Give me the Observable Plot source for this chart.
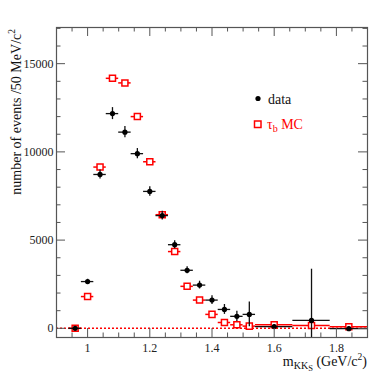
<!DOCTYPE html>
<html><head><meta charset="utf-8">
<script src="https://cdn.jsdelivr.net/npm/d3@7"></script>
<script src="https://cdn.jsdelivr.net/npm/@observablehq/plot@0.6"></script>
<style>body{margin:0;background:#fff}</style>
</head><body><div id="chart"></div>
<script>
// bins (GeV/c^2)
const binLow    = [0.94,0.98,1.02,1.06,1.10,1.14,1.18,1.22,1.26,1.30,1.34,1.38,1.42,1.46,1.50,1.54,1.66,1.78];
const binHigh   = [0.98,1.02,1.06,1.10,1.14,1.18,1.22,1.26,1.30,1.34,1.38,1.42,1.46,1.50,1.54,1.66,1.78,1.90];
const binCenter = [0.96,1.00,1.04,1.08,1.12,1.16,1.20,1.24,1.28,1.32,1.36,1.40,1.44,1.48,1.52,1.60,1.72,1.84];
// data
const dataValues = [0,2650,8720,12170,11120,9900,7760,6390,4740,3290,2450,1600,1070,680,790,100,450,-20];
const dataErrors = [60,130,250,340,320,290,270,250,230,200,220,250,280,290,700,100,2900,100];
// tau_b MC
const mcValues   = [0,1800,9140,14170,13910,12000,9440,6440,4350,2380,1600,790,330,200,125,200,160,85];
// ticks
const xMajor = [1.0,1.2,1.4,1.6,1.8];
const xMinor = [0.95,1.05,1.1,1.15,1.25,1.3,1.35,1.45,1.5,1.55,1.65,1.7,1.75,1.85];
const yMajor = [0,5000,10000,15000];
const yMinor = [1000,2000,3000,4000,6000,7000,8000,9000,11000,12000,13000,14000,16000,17000];

const rows = binCenter.map((c,i)=>({c, lo:binLow[i], hi:binHigh[i], v:dataValues[i], e:dataErrors[i], mc:mcValues[i]}));

const W = 374, H = 374, mL = 56, mR = 7, mT = 27, mB = 37;
const pw = W - mL - mR, ph = H - mT - mB;
const tickCol = "#555";
const ff = "'Liberation Serif', 'Times New Roman', serif";

const chart = Plot.plot({
  width: W, height: H,
  marginLeft: mL, marginRight: mR, marginTop: mT, marginBottom: mB,
  style: {background: "white", fontFamily: ff, fontSize: "12px", color: "#222"},
  x: {domain: [0.9, 1.9]},
  y: {domain: [-520, 17050]},
  marks: [
    Plot.ruleY([0], {stroke: "red", strokeWidth: 1.5, strokeDasharray: "2,2"}),
    // MC
    Plot.ruleY(rows, {x1: "lo", x2: "hi", y: "mc", stroke: "red", strokeWidth: 1.5}),
    Plot.dot(rows, {x: "c", y: "mc", symbol: "square", r: 3.4, fill: "white", stroke: "red", strokeWidth: 1.5}),
    // data
    Plot.ruleY(rows, {x1: "lo", x2: "hi", y: "v", stroke: "#111", strokeWidth: 1.3}),
    Plot.ruleX(rows, {x: "c", y1: d => d.v - d.e, y2: d => d.v + d.e, stroke: "#111", strokeWidth: 1.3, clip: true}),
    Plot.dot(rows, {x: "c", y: "v", r: 2.6, fill: "black"}),
    // ticks (inside, all four sides)
    Plot.tickX(xMajor, {x: d => d, insetTop: ph - 9, stroke: tickCol}),
    Plot.tickX(xMajor, {x: d => d, insetBottom: ph - 9, stroke: tickCol}),
    Plot.tickX(xMinor, {x: d => d, insetTop: ph - 4.5, stroke: tickCol}),
    Plot.tickX(xMinor, {x: d => d, insetBottom: ph - 4.5, stroke: tickCol}),
    Plot.tickY(yMajor, {y: d => d, insetRight: pw - 9, stroke: tickCol}),
    Plot.tickY(yMajor, {y: d => d, insetLeft: pw - 9, stroke: tickCol}),
    Plot.tickY(yMinor, {y: d => d, insetRight: pw - 4.5, stroke: tickCol}),
    Plot.tickY(yMinor, {y: d => d, insetLeft: pw - 4.5, stroke: tickCol}),
    Plot.axisX(xMajor, {tickSize: 0, tickPadding: 6, tickFormat: d => String(d), label: null, fontSize: 12, fontFamily: ff}),
    Plot.axisY(yMajor, {tickSize: 0, tickPadding: 3, tickFormat: d => String(d), label: null, fontSize: 12, fontFamily: ff}),
    Plot.frame({stroke: tickCol, strokeWidth: 1.2})
  ]
});

document.getElementById("chart").appendChild(chart);
const svg = d3.select(chart);
svg.selectAll("text").attr("font-family", ff).style("font-family", ff);

// x label
const xl = svg.append("text").attr("x", 367).attr("y", 366).attr("text-anchor", "end")
  .attr("font-family", ff).attr("font-size", 14).attr("fill", "#111");
xl.append("tspan").text("m");
xl.append("tspan").attr("dy", 3).attr("font-size", 10).text("KK");
xl.append("tspan").attr("dy", 1.5).attr("font-size", 8.5).text("S");
xl.append("tspan").attr("dy", -4.5).attr("font-size", 14).text(" (GeV/c");
xl.append("tspan").attr("dy", -6).attr("font-size", 9.5).text("2");
xl.append("tspan").attr("dy", 6).attr("font-size", 14).text(")");

// y label
const yl = svg.append("text").attr("transform", "translate(21,29) rotate(-90)").attr("text-anchor", "end")
  .attr("font-family", ff).attr("font-size", 14).attr("fill", "#111");
yl.append("tspan").text("number of events /50 MeV/c");
yl.append("tspan").attr("dy", -6).attr("font-size", 9.5).text("2");

// legend
svg.append("circle").attr("cx", 258).attr("cy", 98.5).attr("r", 2.6).attr("fill", "black");
svg.append("text").attr("x", 268).attr("y", 103.5).attr("text-anchor", "start")
  .attr("font-family", ff).attr("font-size", 14).attr("fill", "#111").text("data");
svg.append("rect").attr("x", 254.5).attr("y", 121).attr("width", 6.5).attr("height", 6.5)
  .attr("fill", "white").attr("stroke", "red").attr("stroke-width", 1.5);
const lt = svg.append("text").attr("x", 267).attr("y", 129).attr("text-anchor", "start")
  .attr("font-family", ff).attr("font-size", 14).attr("fill", "red");
lt.append("tspan").text("τ");
lt.append("tspan").attr("dy", 3).attr("font-size", 10).text("b");
lt.append("tspan").attr("dy", -3).attr("font-size", 14).text(" MC");
</script>
</body></html>
